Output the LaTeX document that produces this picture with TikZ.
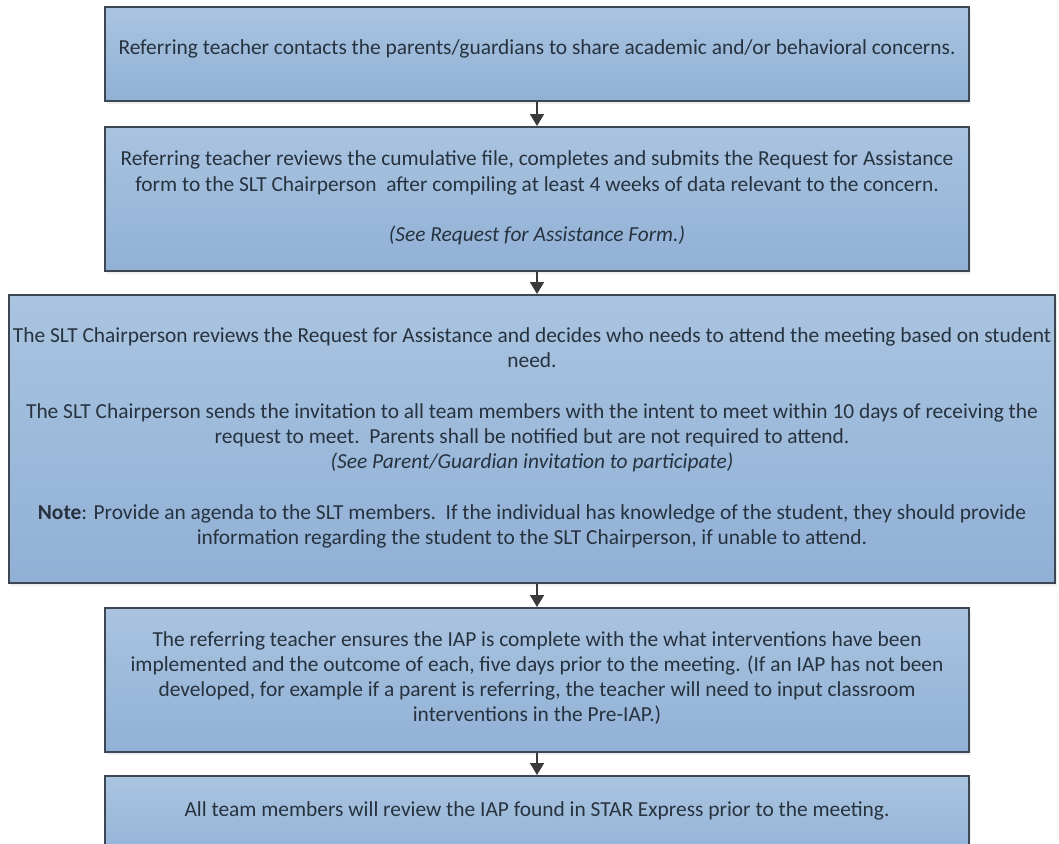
\documentclass[tikz,border=0pt]{standalone}
\usepackage{fontspec}
\setmainfont{Carlito}
\usetikzlibrary{arrows.meta,shadows}
\definecolor{boxtop}{HTML}{AAC4E0}
\definecolor{boxbot}{HTML}{90B0D5}
\definecolor{boxline}{HTML}{3D4753}
\definecolor{txt}{HTML}{27323F}
\definecolor{arr}{HTML}{3A3A3A}
\tikzset{
  flowbox/.style={draw=boxline, line width=2pt, top color=boxtop, bottom color=boxbot,
    inner sep=0pt, drop shadow={opacity=0.12, shadow xshift=2pt, shadow yshift=-3pt}},
  boxtext/.style={align=center, text=txt, inner sep=0pt,
    font=\fontsize{21.4}{25.3}\selectfont},
  flowarrow/.style={draw=arr, line width=1.6pt, -{Triangle[width=14pt,length=12pt]}}
}
\begin{document}
\begin{tikzpicture}[x=1pt,y=-1pt]
\useasboundingbox (0,0) rectangle (1059,843);
\clip (0,0) rectangle (1059,843);
\fill[white] (0,0) rectangle (1059,843);
% boxes
\node[flowbox, minimum width=864pt, minimum height=94pt] (b1) at (537,54) {};
\node[flowbox, minimum width=864pt, minimum height=144pt] (b2) at (537,199) {};
\node[flowbox, minimum width=1046pt, minimum height=288pt] (b3) at (532,439) {};
\node[flowbox, minimum width=864pt, minimum height=144pt] (b4) at (537,680) {};
\node[flowbox, minimum width=864pt, minimum height=94pt] (b5) at (537,823) {};
% texts
\node[boxtext] (t1) at ([yshift=5pt]b1.center) {Referring teacher contacts the parents/guardians to share academic and/or behavioral concerns.};
\node[boxtext] (t2) at ([yshift=1pt]b2.center) {Referring teacher reviews the cumulative file, completes and submits the Request for Assistance\\
form to the SLT Chairperson\ \ after compiling at least 4 weeks of data relevant to the concern.\\[25.3pt]
\textit{(See Request for Assistance Form.)}};
\node[boxtext] (t3) at ([yshift=1pt]b3.center) {The SLT Chairperson reviews the Request for Assistance and decides who needs to attend the meeting based on student\\
need.\\[25.3pt]
The SLT Chairperson sends the invitation to all team members with the intent to meet within 10 days of receiving the\\
request to meet.\ \ Parents shall be notified but are not required to attend.\\
\textit{(See Parent/Guardian invitation to participate)}\\[25.3pt]
\textbf{Note}: Provide an agenda to the SLT members.\ \ If the individual has knowledge of the student, they should provide\\
information regarding the student to the SLT Chairperson, if unable to attend.};
\node[boxtext] (t4) at ([yshift=2pt]b4.center) {The referring teacher ensures the IAP is complete with the what interventions have been\\
implemented and the outcome of each, five days prior to the meeting. (If an IAP has not been\\
developed, for example if a parent is referring, the teacher will need to input classroom\\
interventions in the Pre-IAP.)};
\node[boxtext, anchor=center] (t5) at ([yshift=-36pt]b5.north) {All team members will review the IAP found in STAR Express prior to the meeting.};
% arrows
\draw[flowarrow] (b1.south) -- (b2.north);
\draw[flowarrow] (b2.south) -- (b2.south |- b3.north);
\draw[flowarrow] (b4.north |- b3.south) -- (b4.north);
\draw[flowarrow] (b4.south) -- (b5.north);
\end{tikzpicture}
\end{document}
